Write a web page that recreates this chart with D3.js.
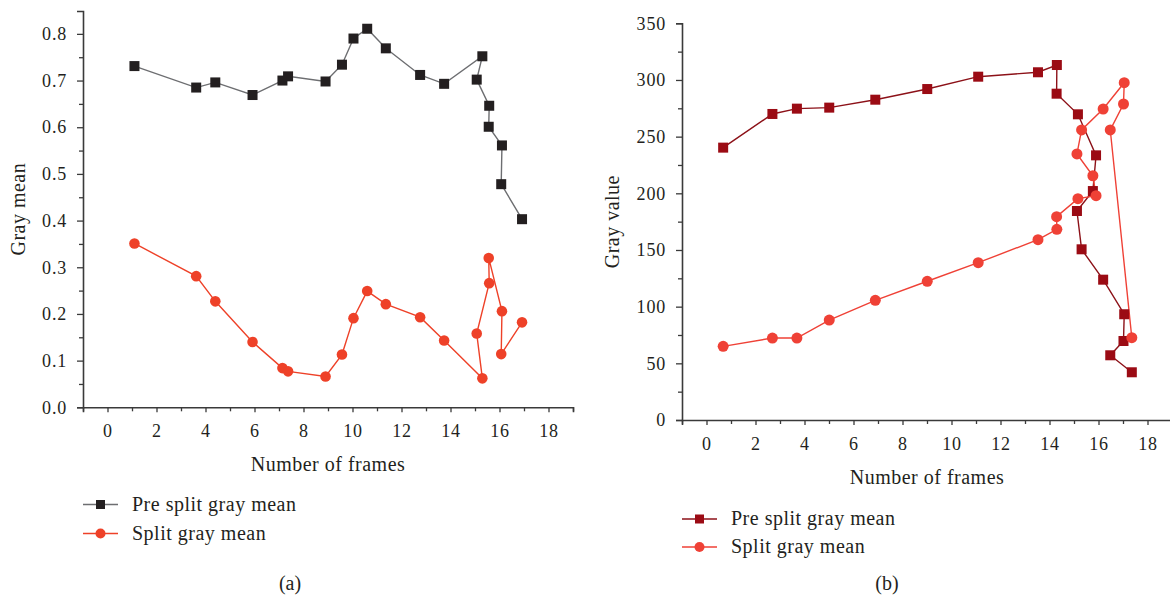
<!DOCTYPE html>
<html><head><meta charset="utf-8">
<script src="https://cdn.jsdelivr.net/npm/d3@7"></script>
<style>body{margin:0;background:#fff}svg{display:block}text{font-family:"Liberation Serif","DejaVu Serif",serif;fill:#231f20}</style>
</head><body><svg id="c" width="1170" height="596"></svg>
<script>
// ---- data (a) ----
const framesA = [1.1,3.62,4.4,5.92,7.14,7.37,8.9,9.57,10.04,10.6,11.36,12.76,13.74,15.3,15.07,15.58,15.56,16.1,16.07,16.92];
const preSplitA = [0.731,0.685,0.696,0.669,0.700,0.709,0.698,0.734,0.790,0.811,0.769,0.712,0.693,0.752,0.702,0.646,0.601,0.561,0.478,0.403];
const splitA = [0.351,0.281,0.227,0.140,0.084,0.077,0.066,0.113,0.191,0.249,0.221,0.193,0.143,0.062,0.158,0.266,0.320,0.206,0.114,0.182];
// ---- data (b) ----
const framesB = [0.68,2.69,3.69,5.01,6.89,9.01,11.09,13.53,14.30,14.29,15.16,15.9,15.77,15.12,15.31,16.19,17.05,17.02,16.48,17.36];
const preSplitB = [240.3,270,274.7,275.6,282.6,292,302.9,306.8,313.2,287.9,269.7,233.5,202,184.4,150.6,123.8,93.3,69.7,57.1,42.1];
const splitB = [65,72.3,72.3,88.2,105.6,122.4,138.8,159.1,168.2,179.4,195.3,197.9,215.5,234.7,255.9,274.4,297.6,278.8,255.9,72.6];
const xTicks = [0,2,4,6,8,10,12,14,16,18];
const yTicksA = [0,0.1,0.2,0.3,0.4,0.5,0.6,0.7,0.8];
const yTicksB = [0,50,100,150,200,250,300,350];
const legendLabels = ["Pre split gray mean","Split gray mean"];

const svg = d3.select("#c");

function panel(cfg){
  const g = svg.append("g");
  const x = d3.scaleLinear().domain([-1,19]).range([cfg.x0, cfg.x0 + 20*24.5]);
  const y = d3.scaleLinear().domain(cfg.yDomain).range([cfg.yBottom, cfg.yTop]);
  const axisColor = "#3a3a3a";
  const xMinor = d3.range(-1,19.01,1).filter(v=>!xTicks.includes(v));
  g.append("g").attr("transform",`translate(0,${cfg.yBottom})`)
    .call(d3.axisBottom(x).tickValues(xTicks).tickFormat(d3.format("d")).tickSizeOuter(0).tickSize(5).tickPadding(12));
  g.append("g").attr("transform",`translate(0,${cfg.yBottom})`)
    .call(d3.axisBottom(x).tickValues(xMinor).tickFormat("").tickSizeOuter(0).tickSize(4))
    .select(".domain").remove();
  g.append("g").attr("transform",`translate(${cfg.x0},0)`)
    .call(d3.axisLeft(y).tickValues(cfg.yTicks).tickFormat(cfg.fmt).tickSizeOuter(0).tickSize(6).tickPadding(10));
  const ym = cfg.yTicks.slice(0,-1).map((v,i)=>(v+cfg.yTicks[i+1])/2);
  if (cfg.yDomain[1] > cfg.yTicks[cfg.yTicks.length-1]) ym.push(cfg.yTicks[cfg.yTicks.length-1] + (cfg.yTicks[1]-cfg.yTicks[0])/2);
  g.append("g").attr("transform",`translate(${cfg.x0},0)`)
    .call(d3.axisLeft(y).tickValues(ym.filter(v=>v<=cfg.yDomain[1])).tickFormat("").tickSizeOuter(0).tickSize(4))
    .select(".domain").remove();
  g.selectAll(".domain").attr("stroke",axisColor).attr("stroke-width",1.6);
  g.selectAll(".tick line").attr("stroke",axisColor).attr("stroke-width",1.3);
  g.selectAll(".tick text").attr("font-size",18).attr("letter-spacing","0.8px").attr("font-family","Liberation Serif").attr("fill","#231f20");
  // axis titles
  g.append("text").attr("x",(x(-1)+x(19))/2).attr("y",cfg.yBottom+64).attr("text-anchor","middle")
    .attr("font-size",20).attr("letter-spacing","0.5px").text("Number of frames");
  g.append("text").attr("transform",`translate(${cfg.yLabelX},${(cfg.yTop+cfg.yBottom)/2}) rotate(-90)`).attr("text-anchor","middle")
    .attr("font-size",20).attr("letter-spacing","0.5px").text(cfg.yLabel);

  const line = d3.line().x((d,i)=>x(cfg.frames[i])).y(d=>y(d));
  g.append("path").datum(cfg.pre).attr("d",line).attr("fill","none").attr("stroke",cfg.preLine).attr("stroke-width",1.4);
  g.append("path").datum(cfg.split).attr("d",line).attr("fill","none").attr("stroke",cfg.splitLine).attr("stroke-width",1.4);
  const s = cfg.sq;
  g.selectAll(".sq").data(cfg.pre).join("rect")
    .attr("x",(d,i)=>x(cfg.frames[i])-s/2).attr("y",d=>y(d)-s/2).attr("width",s).attr("height",s)
    .attr("fill",cfg.preColor);
  g.selectAll(".ci").data(cfg.split).join("circle")
    .attr("cx",(d,i)=>x(cfg.frames[i])).attr("cy",d=>y(d)).attr("r",cfg.r)
    .attr("fill",cfg.splitColor);
  // legend
  const lg = g.append("g");
  [0,1].forEach(k=>{
    const ly = cfg.legY + k*cfg.legGap;
    lg.append("line").attr("x1",cfg.legX).attr("x2",cfg.legX+35).attr("y1",ly).attr("y2",ly)
      .attr("stroke",k?cfg.splitLine:cfg.preLine).attr("stroke-width",1.6);
    if(k===0) lg.append("rect").attr("x",cfg.legX+17.5-4.5).attr("y",ly-4.5).attr("width",9).attr("height",9).attr("fill",cfg.preColor);
    else lg.append("circle").attr("cx",cfg.legX+17.5).attr("cy",ly).attr("r",5).attr("fill",cfg.splitColor);
    lg.append("text").attr("x",cfg.legX+49).attr("y",ly+6).attr("font-size",20).attr("letter-spacing","0.5px").text(legendLabels[k]);
  });
  g.append("text").attr("x",cfg.capX).attr("y",590).attr("text-anchor","middle").attr("font-size",20).text(cfg.cap);
}

panel({x0:83, yTop:11, yBottom:407.3, yDomain:[0,0.849], yTicks:yTicksA, fmt:d3.format(".1f"),
  frames:framesA, pre:preSplitA, split:splitA,
  preColor:"#231f20", preLine:"#6d6e71", splitColor:"#ee4128", splitLine:"#ee4128",
  sq:10, r:5.3, yLabel:"Gray mean", yLabelX:25,
  legX:83, legY:504.5, legGap:29, cap:"(a)", capX:290});

panel({x0:682, yTop:23.3, yBottom:420, yDomain:[0,350], yTicks:yTicksB, fmt:d3.format("d"),
  frames:framesB, pre:preSplitB, split:splitB,
  preColor:"#9b0b14", preLine:"#8c1118", splitColor:"#ef4136", splitLine:"#ef4136",
  sq:10, r:5.5, yLabel:"Gray value", yLabelX:619,
  legX:682, legY:519, legGap:28, cap:"(b)", capX:887});
</script></body></html>
